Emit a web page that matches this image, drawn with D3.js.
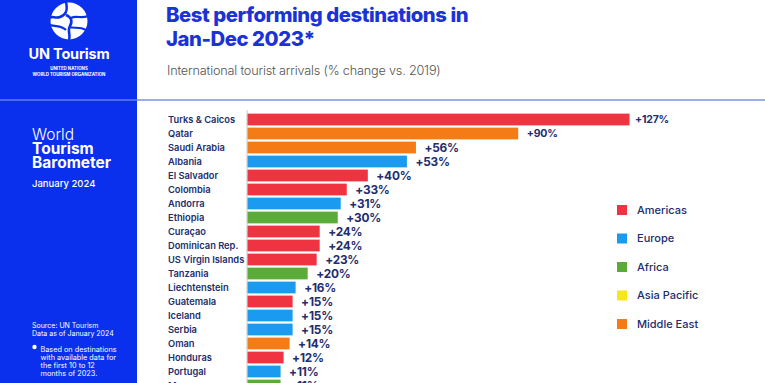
<!DOCTYPE html>
<html><head><meta charset="utf-8">
<script src="https://cdn.jsdelivr.net/npm/d3@7"></script>
<style>
body{margin:0;background:#fff;}
svg{display:block;font-family:Inter,"Noto Sans",sans-serif;}
</style></head>
<body><svg id="c" width="765" height="383"></svg>
<script>
const categories = ["Turks & Caicos","Qatar","Saudi Arabia","Albania","El Salvador","Colombia","Andorra","Ethiopia","Curaçao","Dominican Rep.","US Virgin Islands","Tanzania","Liechtenstein","Guatemala","Iceland","Serbia","Oman","Honduras","Portugal","Morocco"];
const values = [127,90,56,53,40,33,31,30,24,24,23,20,16,15,15,15,14,12,11,11];
const regions = ["Americas","Middle East","Middle East","Europe","Americas","Americas","Europe","Africa","Americas","Americas","Americas","Africa","Europe","Americas","Europe","Europe","Middle East","Americas","Europe","Africa"];
const legendRegions = ["Americas","Europe","Africa","Asia Pacific","Middle East"];
const regionColors = ["#ef3340","#1b9bf0","#5aab37","#f6e61a","#f47b16"];

const svg = d3.select("#c");
const BLUE = "#0a30ee", NAVY = "#232d6e";

// left panel
svg.append("rect").attr("x",0).attr("y",0).attr("width",137).attr("height",383).attr("fill",BLUE);
svg.append("line").attr("x1",0).attr("x2",137).attr("y1",100).attr("y2",100).attr("stroke","#8fa0ff").attr("stroke-width",1);
svg.append("line").attr("x1",137).attr("x2",765).attr("y1",100).attr("y2",100).attr("stroke","#3c5ad0").attr("stroke-width",1.2);

// logo
const lg = svg.append("g").attr("transform","translate(69,21)");
lg.append("circle").attr("r",18.5).attr("fill","#fff");
lg.append("path").attr("d","M-3,-19 C-1,-10 -3,-6 -9,-4 C-14,-2 -17,-6 -19,-3").attr("fill","none").attr("stroke",BLUE).attr("stroke-width",2.6);
lg.append("path").attr("d","M-3,-6 C2,-4 4,0 1,5 C-2,10 2,14 0,19").attr("fill","none").attr("stroke",BLUE).attr("stroke-width",2.6);
lg.append("path").attr("d","M2,-3 C7,-6 12,-2 19,-5").attr("fill","none").attr("stroke",BLUE).attr("stroke-width",2.2);
lg.append("path").attr("d","M0,6 C6,8 10,5 17,9").attr("fill","none").attr("stroke",BLUE).attr("stroke-width",2.2);
lg.append("path").attr("d","M-19,4 C-12,6 -8,4 -3,9").attr("fill","none").attr("stroke",BLUE).attr("stroke-width",2.2);

svg.append("text").attr("x",69).attr("y",59).attr("text-anchor","middle").attr("fill","#fff").attr("font-weight",700).attr("font-size",14.5).attr("letter-spacing","-0.2").text("UN Tourism");
svg.append("text").attr("x",69).attr("y",70).attr("text-anchor","middle").attr("fill","#fff").attr("font-weight",700).attr("font-size",4.4).text("UNITED NATIONS");
svg.append("text").attr("x",69).attr("y",76).attr("text-anchor","middle").attr("fill","#fff").attr("font-weight",700).attr("font-size",4.4).text("WORLD TOURISM ORGANIZATION");

svg.append("text").attr("x",32).attr("y",140).attr("fill","#fff").attr("font-weight",300).attr("font-size",15.5).text("World");
svg.append("text").attr("x",32).attr("y",154).attr("fill","#fff").attr("font-weight",700).attr("font-size",15.5).text("Tourism");
svg.append("text").attr("x",32).attr("y",168).attr("fill","#fff").attr("font-weight",700).attr("font-size",15.5).text("Barometer");
svg.append("text").attr("x",32).attr("y",187).attr("fill","#fff").attr("font-weight",500).attr("font-size",9.5).text("January 2024");

const small = [["Source: UN Tourism",328],["Data as of January 2024",336]];
small.forEach(d=>svg.append("text").attr("x",32).attr("y",d[1]).attr("fill","#fff").attr("font-size",7).text(d[0]));
svg.append("circle").attr("cx",34.5).attr("cy",347).attr("r",2.2).attr("fill","#fff");
[["Based on destinations",352],["with available data for",360],["the first 10 to 12",368],["months of 2023.",376]].forEach(d=>
  svg.append("text").attr("x",40.5).attr("y",d[1]).attr("fill","#fff").attr("font-size",7.3).text(d[0]));

// title
svg.append("text").attr("x",166).attr("y",22).attr("fill","#1a32d8").attr("font-weight",800).attr("font-size",20.3).attr("letter-spacing","-0.45").text("Best performing destinations in");
svg.append("text").attr("x",166).attr("y",46).attr("fill","#1a32d8").attr("font-weight",800).attr("font-size",20.3).attr("letter-spacing","-0.45").text("Jan-Dec 2023*");
svg.append("text").attr("x",167).attr("y",75).attr("fill","#555").attr("font-weight",300).attr("font-size",12.7).attr("letter-spacing","-0.2").text("International tourist arrivals (% change vs. 2019)");

// chart
const x0 = 247;
const x = d3.scaleLinear().domain([0,127]).range([x0, 629]);
const step = 14.0;
const y = d3.scaleBand().domain(categories).range([112.5, 112.5 + step*categories.length]).paddingInner(0.16).paddingOuter(0.08);
const color = d3.scaleOrdinal().domain(legendRegions).range(regionColors);

svg.append("line").attr("x1",x0).attr("x2",x0).attr("y1",110).attr("y2",383).attr("stroke","#bbb").attr("stroke-width",0.8);

const rows = categories.map((c,i)=>({c, v:values[i], r:regions[i]}));
svg.append("g").selectAll("rect").data(rows).join("rect")
  .attr("x",x0+0.5).attr("y",d=>y(d.c)).attr("width",d=>x(d.v)-x0).attr("height",y.bandwidth())
  .attr("fill",d=>color(d.r));

svg.append("g").selectAll("text").data(rows).join("text")
  .attr("x",168).attr("y",d=>y(d.c)+y.bandwidth()/2).attr("dy","0.35em")
  .attr("fill",NAVY).attr("font-weight",600).attr("font-size",9.3).text(d=>d.c);

svg.append("g").selectAll("text").data(rows).join("text")
  .attr("x",d=>x(d.v)+ (d.v>100?6:9)).attr("y",d=>y(d.c)+y.bandwidth()/2).attr("dy","0.36em")
  .attr("fill",NAVY).attr("font-weight",700).attr("font-size",d=>d.v>80?10.5:11.8).attr("letter-spacing","-0.2").text(d=>"+"+d.v+"%");

// legend
const lgd = svg.append("g").selectAll("g").data(legendRegions).join("g")
  .attr("transform",(d,i)=>`translate(617,${210 + i*28.5})`);
lgd.append("rect").attr("x",0).attr("y",-5).attr("width",10).attr("height",10).attr("fill",d=>color(d));
lgd.append("text").attr("x",20).attr("y",0).attr("dy","0.35em").attr("fill",NAVY).attr("font-weight",500).attr("font-size",11).text(d=>d);
</script></body></html>
